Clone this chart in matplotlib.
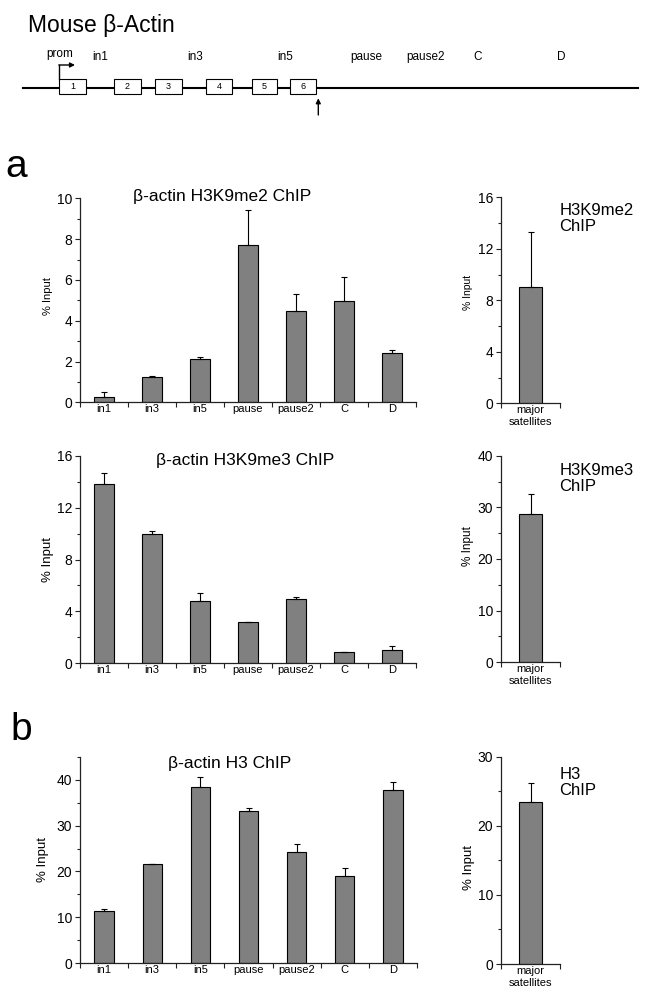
import numpy as np
import matplotlib
matplotlib.use('Agg')
import matplotlib.pyplot as plt
from matplotlib.patches import Rectangle
from matplotlib.ticker import MultipleLocator

plt.rcParams['font.family'] = ['Liberation Sans', 'DejaVu Sans']

# regions probed by ChIP
regions = ['in1', 'in3', 'in5', 'pause', 'pause2', 'C', 'D']

# % input, mean and upper error
h3k9me2 = [0.25, 1.25, 2.1, 7.73, 4.48, 4.99, 2.43]
h3k9me2_err = [0.27, 0.03, 0.1, 1.72, 0.84, 1.13, 0.14]
h3k9me3 = [13.82, 9.94, 4.83, 3.16, 4.93, 0.87, 1.03]
h3k9me3_err = [0.88, 0.26, 0.56, 0.05, 0.15, 0.0, 0.31]
h3 = [11.5, 21.55, 38.3, 33.2, 24.3, 19.0, 37.76]
h3_err = [0.25, 0.0, 2.2, 0.65, 1.7, 1.7, 1.65]

# major satellites control
sat_label = ['major\nsatellites']
sat_h3k9me2, sat_h3k9me2_err = [9.0], [4.28]
sat_h3k9me3, sat_h3k9me3_err = [28.8], [3.7]
sat_h3, sat_h3_err = [23.5], [2.7]

# gene map (diagram units)
exon_names = ['1', '2', '3', '4', '5', '6']
exon_start = [59.3, 114.3, 155, 206, 251.7, 290]
exon_end = [85.7, 140.7, 181.7, 232.3, 277.3, 316]
gene_start, gene_end = 22.6, 638
map_labels = ['in1', 'in3', 'in5', 'pause', 'pause2', 'C', 'D']
map_label_pos = [100.5, 194.7, 285.5, 366, 426, 477.4, 561.7]

W, H = 649, 1001
fig = plt.figure(figsize=(W / 100, H / 100), dpi=100)


def box(l, t, r, b):
    return [l / W, 1 - b / H, (r - l) / W, (b - t) / H]


# overlay in pixel coords for diagram and free text, drawn on top
ov = fig.add_axes([0, 0, 1, 1])
ov.set_zorder(10)
ov.set_xlim(0, W)
ov.set_ylim(H, 0)
ov.axis('off')
ov.patch.set_alpha(0)

ov.text(28, 31.7, 'Mouse β-Actin', fontsize=16.5, va='baseline', ha='left')
ov.plot([gene_start, gene_end], [87.7, 87.7], color='black', lw=1.5, zorder=1)
for name, s, e in zip(exon_names, exon_start, exon_end):
    ov.add_patch(Rectangle((s, 79.3), e - s, 14.7, facecolor='white',
                           edgecolor='black', lw=0.8, zorder=2))
    ov.text((s + e) / 2, 86.8, name, fontsize=6.5, ha='center', va='center', zorder=3)
for name, x in zip(map_labels, map_label_pos):
    ov.text(x, 57.3, name, fontsize=8.5, ha='center', va='center')
ov.text(59.8, 53.5, 'prom', fontsize=8.5, ha='center', va='center')
ov.plot([exon_start[0], exon_start[0]], [79.3, 65], color='black', lw=1)
ov.annotate('', xy=(75, 65), xytext=(exon_start[0] - 0.5, 65),
            arrowprops=dict(arrowstyle='-|>', color='black', lw=1,
                            mutation_scale=7, shrinkA=0, shrinkB=0))
ov.annotate('', xy=(exon_end[-1] + 2.3, 98.3), xytext=(exon_end[-1] + 2.3, 115),
            arrowprops=dict(arrowstyle='-|>', color='black', lw=1,
                            mutation_scale=7, shrinkA=0, shrinkB=0))

ov.text(5, 176.7, 'a', fontsize=28, va='baseline', ha='left')
ov.text(10, 740, 'b', fontsize=28, va='baseline', ha='left')

# chart titles
ov.text(222, 196.7, 'β-actin H3K9me2 ChIP', fontsize=12.5, ha='center', va='center')
ov.text(245.5, 460, 'β-actin H3K9me3 ChIP', fontsize=12.5, ha='center', va='center')
ov.text(229.5, 763.3, 'β-actin H3 ChIP', fontsize=12.5, ha='center', va='center')
ov.text(559.3, 218.5, 'H3K9me2\nChIP', fontsize=12, ha='left', va='center', linespacing=1.1)
ov.text(559.3, 478.4, 'H3K9me3\nChIP', fontsize=12, ha='left', va='center', linespacing=1.1)
ov.text(559.3, 782.5, 'H3\nChIP', fontsize=12, ha='left', va='center', linespacing=1.1)


def bar_panel(rect, cats, vals, errs, top, major, minor, lab_x, lab_y, lab_size):
    ax = fig.add_axes(rect)
    n = len(cats)
    x = np.arange(n)
    ax.bar(x, vals, width=0.4, color='#808080', edgecolor='black', lw=0.8,
           yerr=[np.zeros(n), errs],
           error_kw=dict(ecolor='black', elinewidth=0.8, capsize=2.5, capthick=0.8))
    ax.set_xlim(-0.5, n - 0.5)
    ax.set_ylim(0, top)
    for s in ['top', 'right']:
        ax.spines[s].set_visible(False)
    for s in ['left', 'bottom']:
        ax.spines[s].set_linewidth(0.9)
        ax.spines[s].set_color('#222222')
    ax.set_xticks(np.arange(n + 1) - 0.5, labels=[])
    ax.set_xticks(x, labels=cats, minor=True)
    ax.set_yticks(np.arange(0, top + 0.01, major))
    ax.yaxis.set_minor_locator(MultipleLocator(minor))
    ax.tick_params(axis='x', which='major', length=3.3, width=0.8, color='#222222')
    ax.tick_params(axis='x', which='minor', length=0, labelsize=8, pad=1.5)
    ax.tick_params(axis='y', which='major', length=3.3, width=0.8, labelsize=10,
                   pad=2.2, color='#222222')
    ax.tick_params(axis='y', which='minor', length=2, width=0.8, color='#222222')
    ax.set_ylabel('% Input', fontsize=lab_size)
    ax.yaxis.label.set_verticalalignment('center')
    ax.yaxis.set_label_coords(lab_x, lab_y)
    return ax


bar_panel(box(80, 198.3, 416, 402.3), regions, h3k9me2, h3k9me2_err,
          10, 2, 1, -0.094, 0.522, 8)
bar_panel(box(501, 197.3, 560, 403.3), sat_label, sat_h3k9me2, sat_h3k9me2_err,
          16, 4, 2, -0.559, 0.538, 7.5)
bar_panel(box(80, 455.7, 416, 663.3), regions, h3k9me3, h3k9me3_err,
          16, 4, 2, -0.094, 0.5, 9.5)
bar_panel(box(501, 455.7, 560, 662.3), sat_label, sat_h3k9me3, sat_h3k9me3_err,
          40, 10, 5, -0.559, 0.564, 8.5)
bar_panel(box(80, 756.7, 417, 963.3), regions, h3, h3_err,
          45, 10, 5, -0.109, 0.5, 9.5)
bar_panel(box(501, 756.7, 560, 964), sat_label, sat_h3, sat_h3_err,
          30, 10, 5, -0.542, 0.467, 9.5)

fig.savefig('out.png', dpi=100)
